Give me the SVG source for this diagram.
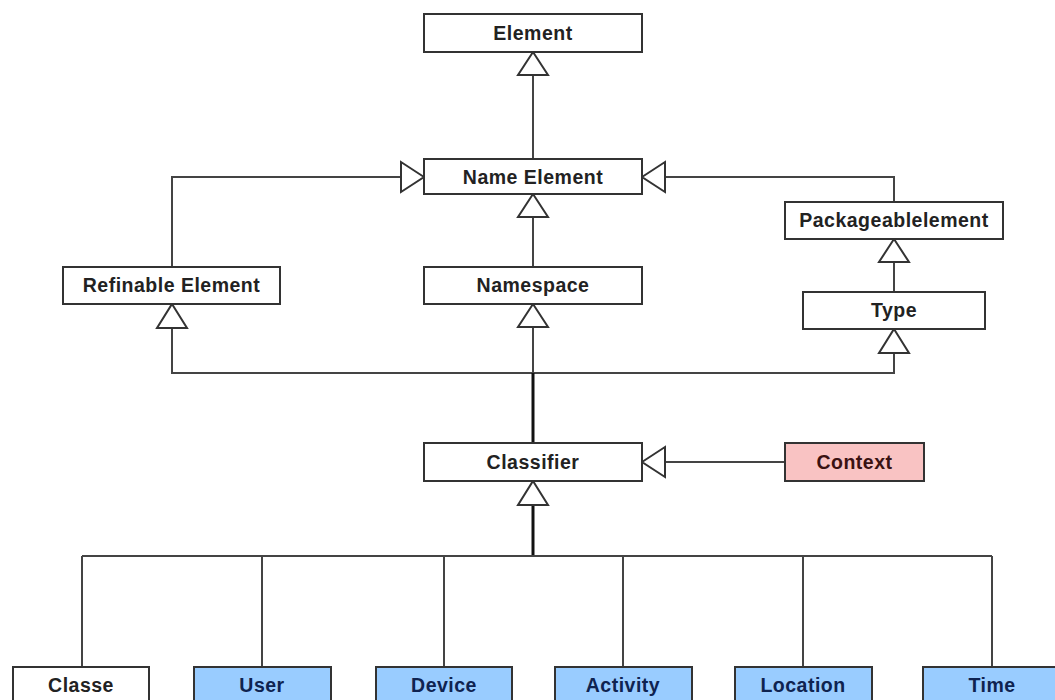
<svg xmlns="http://www.w3.org/2000/svg" width="1055" height="700" viewBox="0 0 1055 700">
<style>
.box{fill:#fff;stroke:#333;stroke-width:2}
.blue{fill:#99ccff;stroke:#333;stroke-width:2}
.pink{fill:#f9c3c3;stroke:#333;stroke-width:2}
.t{font-family:"Liberation Sans",Arial,sans-serif;font-weight:bold;font-size:19.5px;letter-spacing:0.5px;text-anchor:middle;fill:#222}
.tb{fill:#0f2350}
.tp{fill:#3a1212}
.ln{fill:none;stroke:#444;stroke-width:2}
.thick{fill:none;stroke:#111;stroke-width:3}
.tri{fill:#fff;stroke:#333;stroke-width:2;stroke-linejoin:miter}
</style>
<rect width="1055" height="700" fill="#fff"/>
<g id="connectors">
<path class="ln" d="M533 75V159"/>
<path class="ln" d="M533 217V267"/>
<path class="ln" d="M401 177H172V267"/>
<path class="ln" d="M665 177H894V202"/>
<path class="ln" d="M894 262V292"/>
<path class="ln" d="M172 328V373H894V353"/>
<path class="ln" d="M533 327V373"/>
<path class="thick" d="M533 373V443"/>
<path class="ln" d="M665 462H785"/>
<path class="thick" d="M533 505V556"/>
<path class="ln" d="M82 556H992"/>
<path class="ln" d="M82 556V667M262 556V667M444 556V667M623 556V667M803 556V667M992 556V667"/>
<polygon class="tri" points="533,52 548,75 518,75"/>
<polygon class="tri" points="533,194 548,217 518,217"/>
<polygon class="tri" points="424,177 401,162 401,192"/>
<polygon class="tri" points="642,177 665,162 665,192"/>
<polygon class="tri" points="894,239 909,262 879,262"/>
<polygon class="tri" points="172,304 187,328 157,328"/>
<polygon class="tri" points="533,304 548,327 518,327"/>
<polygon class="tri" points="894,329 909,353 879,353"/>
<polygon class="tri" points="642,462 665,447 665,477"/>
<polygon class="tri" points="533,481 548,505 518,505"/>
</g>
<g id="element"><rect class="box" x="424" y="14" width="218" height="38"/><text class="t" x="533" y="40">Element</text></g>
<g id="name-element"><rect class="box" x="424" y="159" width="218" height="35"/><text class="t" x="533" y="183.5">Name Element</text></g>
<g id="refinable-element"><rect class="box" x="63" y="267" width="217" height="37"/><text class="t" x="171.5" y="292">Refinable Element</text></g>
<g id="namespace"><rect class="box" x="424" y="267" width="218" height="37"/><text class="t" x="533" y="292">Namespace</text></g>
<g id="packageablelement"><rect class="box" x="785" y="202" width="218" height="37"/><text class="t" x="894" y="227">Packageablelement</text></g>
<g id="type"><rect class="box" x="803" y="292" width="182" height="37"/><text class="t" x="894" y="317">Type</text></g>
<g id="classifier"><rect class="box" x="424" y="443" width="218" height="38"/><text class="t" x="533" y="469">Classifier</text></g>
<g id="context"><rect class="pink" x="785" y="443" width="139" height="38"/><text class="t tp" x="854.5" y="469">Context</text></g>
<g id="classe"><rect class="box" x="13" y="667" width="136" height="40"/><text class="t" x="81" y="692">Classe</text></g>
<g id="user"><rect class="blue" x="194" y="667" width="137" height="40"/><text class="t tb" x="262" y="692">User</text></g>
<g id="device"><rect class="blue" x="376" y="667" width="136" height="40"/><text class="t tb" x="444" y="692">Device</text></g>
<g id="activity"><rect class="blue" x="555" y="667" width="137" height="40"/><text class="t tb" x="623" y="692">Activity</text></g>
<g id="location"><rect class="blue" x="735" y="667" width="137" height="40"/><text class="t tb" x="803" y="692">Location</text></g>
<g id="time"><rect class="blue" x="923" y="667" width="140" height="40"/><text class="t tb" x="992" y="692">Time</text></g>
</svg>
